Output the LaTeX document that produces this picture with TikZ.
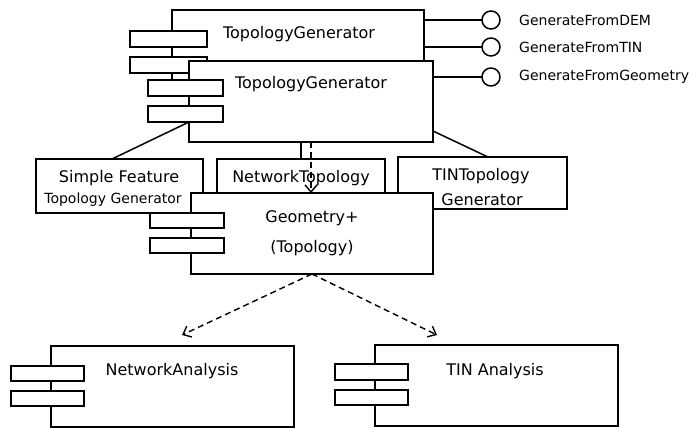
\documentclass[tikz,border=0pt]{standalone}
\usepackage{fontspec}
\setmainfont{DejaVu Sans}
\usetikzlibrary{arrows.meta,calc}
\tikzset{
  comp/.style={draw, fill=white, line width=1.5pt, inner sep=0pt, outer sep=0pt, anchor=north west},
  lbl/.style={inner sep=0pt, font=\fontsize{16pt}{18pt}\selectfont},
  slbl/.style={inner sep=0pt, font=\fontsize{14pt}{16pt}\selectfont},
  lolly/.style={draw, fill=white, circle, line width=1.5pt, minimum size=18pt, inner sep=0pt, outer sep=0pt},
  conn/.style={line width=1.5pt},
  dep/.style={line width=1.4pt, dash pattern=on 6pt off 4pt, -{Straight Barb[length=7pt,width=12pt]}}
}
\begin{document}
\begin{tikzpicture}[x=1pt,y=-1pt]
\useasboundingbox (0,0) rectangle (696,428);
% TopologyGenerator (back)
\node[comp, minimum width=252pt, minimum height=78pt] (b1) at (172,10) {};
\node[comp, minimum width=77pt, minimum height=16pt] (b1a) at (130,31) {};
\node[comp, minimum width=77pt, minimum height=16pt] (b1b) at (130,57) {};
% TopologyGenerator (front)
\node[comp, minimum width=244pt, minimum height=81pt] (b2) at (189,61) {};
\node[comp, minimum width=75pt, minimum height=16pt] (b2a) at (148,80) {};
\node[comp, minimum width=75pt, minimum height=16pt] (b2b) at (148,106) {};
\node[lbl] (t1) at (299,34) {TopologyGenerator};
\node[lbl] (t2) at (311,84) {TopologyGenerator};
% interfaces
\node[lolly] (l1) at (491,20) {};
\node[lolly] (l2) at (491,47) {};
\node[lolly] (l3) at (491,77) {};
\draw[conn] (b1.east |- l1) -- (l1.west);
\draw[conn] (b1.east |- l2) -- (l2.west);
\draw[conn] (b2.east |- l3) -- (l3.west);
\node[slbl, anchor=west] (g1) at (519,20) {GenerateFromDEM};
\node[slbl, anchor=west] (g2) at (519,47) {GenerateFromTIN};
\node[slbl, anchor=west] (g3) at (519,77) {GenerateFromGeometry};
% generators
\node[comp, minimum width=167pt, minimum height=54pt] (sf) at (36,159) {};
\node[comp, minimum width=168pt, minimum height=50pt] (nt) at (217,159) {};
\node[comp, minimum width=169pt, minimum height=52pt] (tin) at (398,157) {};
\draw[conn] ([xshift=3.5pt]b2b.south) -- ([xshift=-7.5pt]sf.north);
\draw[conn] ([yshift=11pt]b2.south east) -- ([xshift=5.5pt]tin.north);
\draw[conn] ([xshift=-10pt]b2.south) -- ([xshift=-10pt]b2.south |- nt.north);
\node[lbl] (sft1) at (119,178) {Simple Feature};
\node[slbl] (sft2) at (113,200) {Topology Generator};
\node[lbl] (ntt) at (301,178) {NetworkTopology};
\node[lbl] (tint1) at (481,176) {TINTopology};
\node[lbl] (tint2) at (482,200) {Generator};
% Geometry+
\node[comp, minimum width=242pt, minimum height=81pt] (geo) at (191,193) {};
\node[comp, minimum width=74pt, minimum height=15pt] (geoa) at (150,213) {};
\node[comp, minimum width=74pt, minimum height=15pt] (geob) at (150,238) {};
\node[lbl] (geot1) at (312,218) {Geometry+};
\node[lbl] (geot2) at (312,248) {(Topology)};
\draw[dep] (b2.south) -- (geo.north -| b2.south);
% analyses
\node[comp, minimum width=243pt, minimum height=81pt] (na) at (51,346) {};
\node[comp, minimum width=73pt, minimum height=15pt] (naa) at (11,366) {};
\node[comp, minimum width=73pt, minimum height=15pt] (nab) at (11,391) {};
\node[lbl] (nat) at (172,371) {NetworkAnalysis};
\node[comp, minimum width=243pt, minimum height=81pt] (ta) at (375,345) {};
\node[comp, minimum width=73pt, minimum height=16pt] (taa) at (335,364) {};
\node[comp, minimum width=73pt, minimum height=15pt] (tab) at (335,390) {};
\node[lbl] (tat) at (495,371) {TIN Analysis};
\draw[dep] (geo.south) -- ([xshift=9.5pt,yshift=11pt]na.north);
\draw[dep] (geo.south) -- ([xshift=-59.5pt,yshift=10pt]ta.north);
\end{tikzpicture}
\end{document}
